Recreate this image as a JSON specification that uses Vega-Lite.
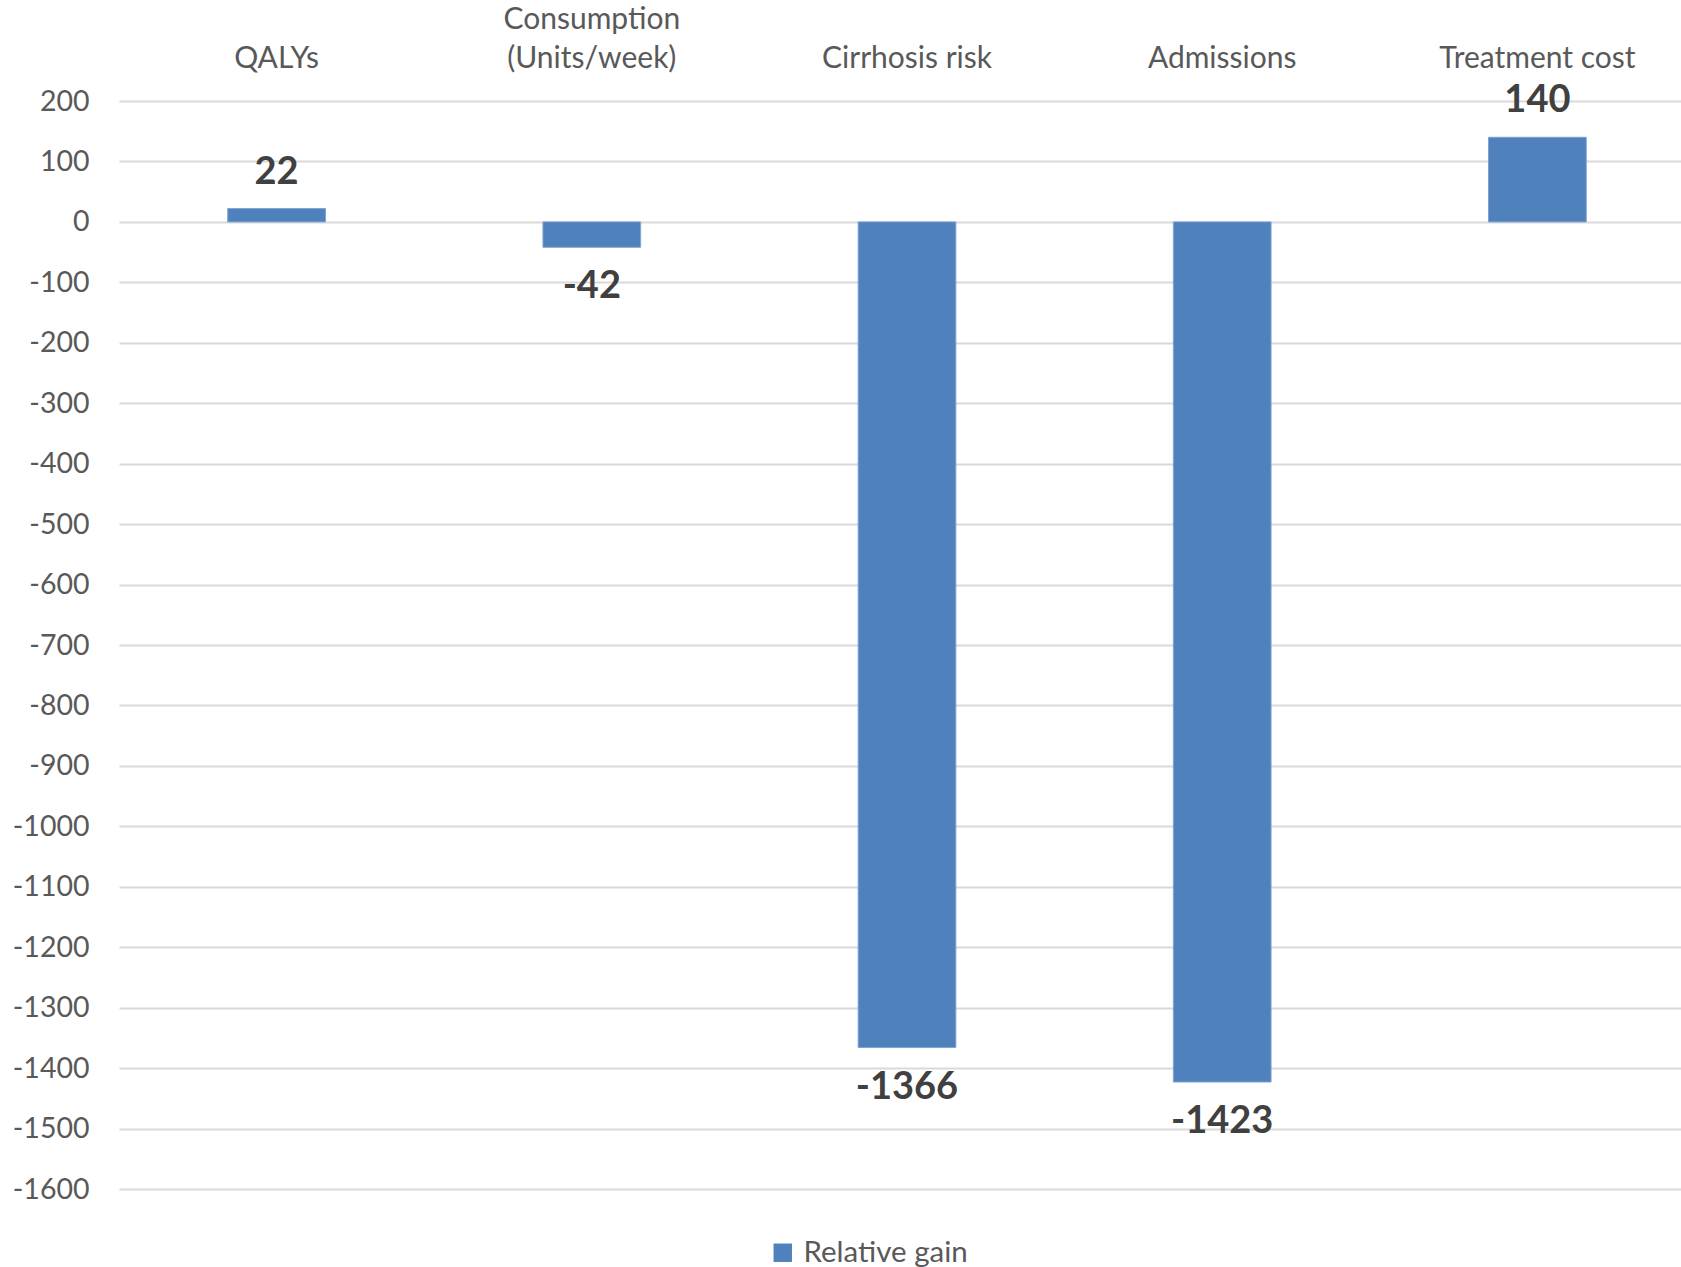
{
  "$schema": "https://vega.github.io/schema/vega-lite/v6.json",
  "autosize": {"type": "none"},
  "width": 1562,
  "height": 1088,
  "padding": {"left": 119, "top": 101, "right": 0, "bottom": 78},
  "background": "white",
  "config": {"view": {"stroke": null}, "font": "Lato"},
  "data": {"values": [
    {"category": "|QALYs", "value": 22, "series": "Relative gain"},
    {"category": "Consumption|(Units/week)", "value": -42, "series": "Relative gain"},
    {"category": "|Cirrhosis risk", "value": -1366, "series": "Relative gain"},
    {"category": "|Admissions", "value": -1423, "series": "Relative gain"},
    {"category": "|Treatment cost", "value": 140, "series": "Relative gain"}
  ]},
  "encoding": {
    "x": {"field": "category", "type": "nominal", "sort": null,
      "scale": {"range": [0, 1576], "paddingInner": 0.69, "paddingOuter": 0.345},
      "axis": {"orient": "top", "title": null, "ticks": false, "domain": false, "labelAngle": 0,
        "labelExpr": "split(datum.label, '|')", "labelLineHeight": 39, "labelLimit": 400,
        "labelFont": "Lato", "labelFontSize": 30, "labelColor": "#595959", "labelPadding": 67, "grid": false}},
    "y": {"field": "value", "type": "quantitative",
      "scale": {"domain": [-1600, 200], "nice": false, "zero": false},
      "axis": {"title": null, "ticks": false, "domain": false,
        "values": [200,100,0,-100,-200,-300,-400,-500,-600,-700,-800,-900,-1000,-1100,-1200,-1300,-1400,-1500,-1600],
        "labelExpr": "'' + datum.value",
        "labelFont": "Lato", "labelFontSize": 28.5, "labelColor": "#595959", "labelPadding": 30,
        "gridColor": "#D9D9D9", "gridWidth": 2}}
  },
  "layer": [
    {"mark": {"type": "bar", "stroke": "#7FA3D3", "strokeWidth": 1},
     "encoding": {
       "color": {"field": "series", "type": "nominal",
         "scale": {"range": ["#4F81BD"]},
         "legend": {"title": null, "orient": "none", "legendX": 649, "legendY": 1137,
           "symbolType": "square", "symbolSize": 340, "symbolStrokeWidth": 0, "labelLimit": 400,
           "labelFont": "Lato", "labelFontSize": 29.5, "labelColor": "#595959", "labelOffset": 6}}
     }},
    {"transform": [{"filter": "datum.value >= 0"}],
     "mark": {"type": "text", "font": "Lato", "fontWeight": "bold", "fontSize": 38, "color": "#404040", "baseline": "middle", "dy": -36},
     "encoding": {"text": {"field": "value", "type": "nominal"}}},
    {"transform": [{"filter": "datum.value < 0"}],
     "mark": {"type": "text", "font": "Lato", "fontWeight": "bold", "fontSize": 38, "color": "#404040", "baseline": "middle", "dy": 40},
     "encoding": {"text": {"field": "value", "type": "nominal"}}}
  ]
}
